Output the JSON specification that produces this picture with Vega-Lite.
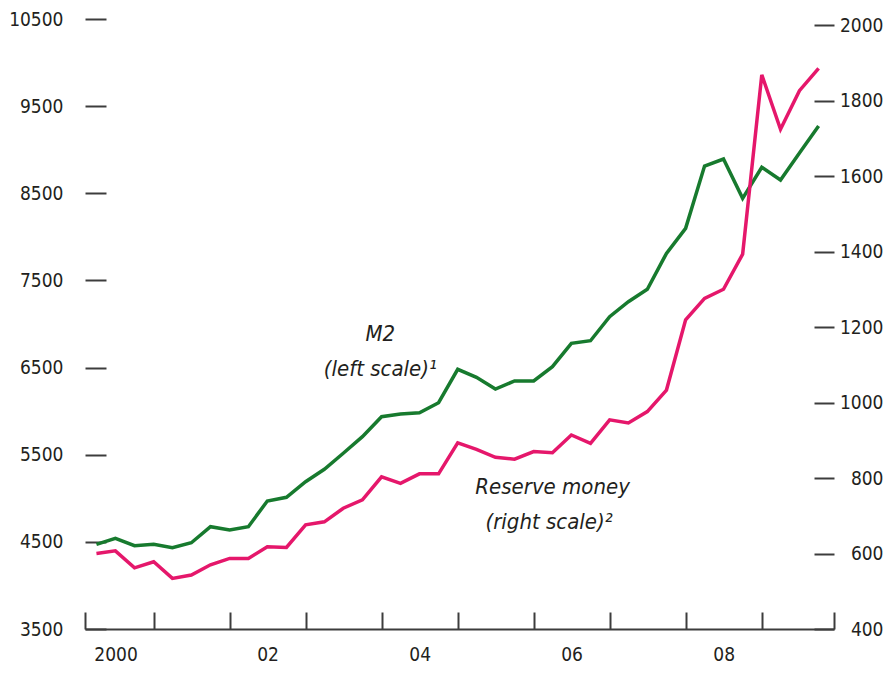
{
  "$schema": "https://vega.github.io/schema/vega-lite/v6.json",
  "width": 749,
  "height": 610,
  "autosize": {"type": "none"},
  "padding": {"left": 85, "top": 19, "right": 56, "bottom": 44},
  "background": "white",
  "config": {
    "view": {"stroke": null},
    "font": "DejaVu Sans Condensed, DejaVu Sans, sans-serif",
    "axis": {
      "labelFont": "DejaVu Sans Condensed, DejaVu Sans, sans-serif",
      "labelFontSize": 19,
      "labelFontWeight": "normal",
      "labelColor": "#231f20",
      "tickColor": "#3c3c3c",
      "domainColor": "#3c3c3c",
      "grid": false,
      "title": null
    },
    "text": {"fill": "#231f20", "fontStyle": "italic", "fontWeight": "normal", "fontSize": 22, "align": "center", "baseline": "middle", "font": "DejaVu Sans Condensed, DejaVu Sans, sans-serif"}
  },
  "datasets": {
    "money": [
      {"date": "2000-03-31", "m2": 4472, "rm": 600},
      {"date": "2000-06-30", "m2": 4541, "rm": 607},
      {"date": "2000-09-30", "m2": 4456, "rm": 562},
      {"date": "2000-12-31", "m2": 4472, "rm": 578},
      {"date": "2001-03-31", "m2": 4433, "rm": 534},
      {"date": "2001-06-30", "m2": 4490, "rm": 543},
      {"date": "2001-09-30", "m2": 4674, "rm": 570},
      {"date": "2001-12-31", "m2": 4636, "rm": 587},
      {"date": "2002-03-31", "m2": 4674, "rm": 587},
      {"date": "2002-06-30", "m2": 4969, "rm": 618},
      {"date": "2002-09-30", "m2": 5011, "rm": 616},
      {"date": "2002-12-31", "m2": 5190, "rm": 676},
      {"date": "2003-03-31", "m2": 5333, "rm": 684},
      {"date": "2003-06-30", "m2": 5517, "rm": 720},
      {"date": "2003-09-30", "m2": 5707, "rm": 742},
      {"date": "2003-12-31", "m2": 5936, "rm": 803},
      {"date": "2004-03-31", "m2": 5967, "rm": 786},
      {"date": "2004-06-30", "m2": 5982, "rm": 811},
      {"date": "2004-09-30", "m2": 6097, "rm": 811},
      {"date": "2004-12-31", "m2": 6480, "rm": 893},
      {"date": "2005-03-31", "m2": 6388, "rm": 876},
      {"date": "2005-06-30", "m2": 6254, "rm": 855},
      {"date": "2005-09-30", "m2": 6346, "rm": 850},
      {"date": "2005-12-31", "m2": 6346, "rm": 870},
      {"date": "2006-03-31", "m2": 6510, "rm": 867},
      {"date": "2006-06-30", "m2": 6778, "rm": 914},
      {"date": "2006-09-30", "m2": 6808, "rm": 892},
      {"date": "2006-12-31", "m2": 7084, "rm": 954},
      {"date": "2007-03-31", "m2": 7256, "rm": 946},
      {"date": "2007-06-30", "m2": 7398, "rm": 976},
      {"date": "2007-09-30", "m2": 7811, "rm": 1033},
      {"date": "2007-12-31", "m2": 8098, "rm": 1219},
      {"date": "2008-03-31", "m2": 8813, "rm": 1276},
      {"date": "2008-06-30", "m2": 8893, "rm": 1300},
      {"date": "2008-09-30", "m2": 8442, "rm": 1393},
      {"date": "2008-12-31", "m2": 8798, "rm": 1868},
      {"date": "2009-03-31", "m2": 8652, "rm": 1724},
      {"date": "2009-06-30", "m2": 8962, "rm": 1826},
      {"date": "2009-09-30", "m2": 9272, "rm": 1885}
    ],
    "note": [{}]
  },
  "data": {"name": "money"},
  "layer": [
    {
      "layer": [
        {
          "mark": {"type": "line", "color": "#177a2e", "strokeWidth": 3.5, "strokeJoin": "miter"},
          "encoding": {
            "x": {
              "field": "date",
              "type": "temporal",
              "scale": {
                "type": "utc",
                "domain": [
                  {"year": 2000, "month": 2, "date": 5, "utc": true},
                  {"year": 2009, "month": 12, "date": 13, "utc": true}
                ]
              },
              "axis": {
                "orient": "bottom",
                "values": [
                  {"year": 2000, "month": 2, "date": 5, "utc": true},
                  {"year": 2001, "month": 1, "date": 1, "utc": true},
                  {"year": 2002, "month": 1, "date": 1, "utc": true},
                  {"year": 2003, "month": 1, "date": 1, "utc": true},
                  {"year": 2004, "month": 1, "date": 1, "utc": true},
                  {"year": 2005, "month": 1, "date": 1, "utc": true},
                  {"year": 2006, "month": 1, "date": 1, "utc": true},
                  {"year": 2007, "month": 1, "date": 1, "utc": true},
                  {"year": 2008, "month": 1, "date": 1, "utc": true},
                  {"year": 2009, "month": 1, "date": 1, "utc": true},
                  {"year": 2009, "month": 12, "date": 13, "utc": true}
                ],
                "labels": false,
                "ticks": true,
                "tickSize": -17,
                "tickWidth": 2,
                "domain": true,
                "domainWidth": 2
              }
            },
            "y": {
              "field": "m2",
              "type": "quantitative",
              "scale": {"domain": [3500, 10500], "nice": false, "zero": false},
              "axis": {
                "orient": "left",
                "values": [3500, 4500, 5500, 6500, 7500, 8500, 9500, 10500],
                "format": "d",
                "domain": false,
                "tickSize": -21,
                "tickWidth": 2,
                "labelPadding": 43
              }
            }
          }
        },
        {
          "data": {"name": "note"},
          "mark": {"type": "text", "text": "M2"},
          "encoding": {
            "x": {"datum": {"year": 2003, "month": 12, "date": 25, "utc": true}, "type": "temporal"},
            "y": {"datum": 6885, "type": "quantitative"}
          }
        },
        {
          "data": {"name": "note"},
          "mark": {"type": "text", "text": "(left scale)¹"},
          "encoding": {
            "x": {"datum": {"year": 2003, "month": 12, "date": 25, "utc": true}, "type": "temporal"},
            "y": {"datum": 6484, "type": "quantitative"}
          }
        }
      ]
    },
    {
      "layer": [
        {
          "mark": {"type": "line", "color": "#e5176b", "strokeWidth": 3.5, "strokeJoin": "miter"},
          "encoding": {
            "x": {
              "field": "date",
              "type": "temporal",
              "axis": {
                "orient": "bottom",
                "values": [
                  {"year": 2000, "month": 7, "date": 1, "utc": true},
                  {"year": 2002, "month": 7, "date": 1, "utc": true},
                  {"year": 2004, "month": 7, "date": 1, "utc": true},
                  {"year": 2006, "month": 7, "date": 1, "utc": true},
                  {"year": 2008, "month": 7, "date": 1, "utc": true}
                ],
                "labelExpr": "utcFormat(datum.value, '%Y') == '2000' ? '2000' : utcFormat(datum.value, '%y')",
                "ticks": false,
                "domain": false,
                "labelPadding": 16,
                "labelBaseline": "top"
              }
            },
            "y": {
              "field": "rm",
              "type": "quantitative",
              "scale": {"domain": [400, 2016], "nice": false, "zero": false},
              "axis": {
                "orient": "right",
                "values": [400, 600, 800, 1000, 1200, 1400, 1600, 1800, 2000],
                "format": "d",
                "domain": false,
                "tickSize": -20,
                "tickWidth": 2,
                "labelAlign": "right",
                "labelPadding": 69
              }
            }
          }
        },
        {
          "data": {"name": "note"},
          "mark": {"type": "text", "text": "Reserve money"},
          "encoding": {
            "x": {"datum": {"year": 2006, "month": 4, "date": 1, "utc": true}, "type": "temporal"},
            "y": {"datum": 776, "type": "quantitative"}
          }
        },
        {
          "data": {"name": "note"},
          "mark": {"type": "text", "text": "(right scale)²"},
          "encoding": {
            "x": {"datum": {"year": 2006, "month": 3, "date": 15, "utc": true}, "type": "temporal"},
            "y": {"datum": 683, "type": "quantitative"}
          }
        }
      ]
    }
  ],
  "resolve": {"scale": {"y": "independent"}, "axis": {"x": "independent"}}
}
